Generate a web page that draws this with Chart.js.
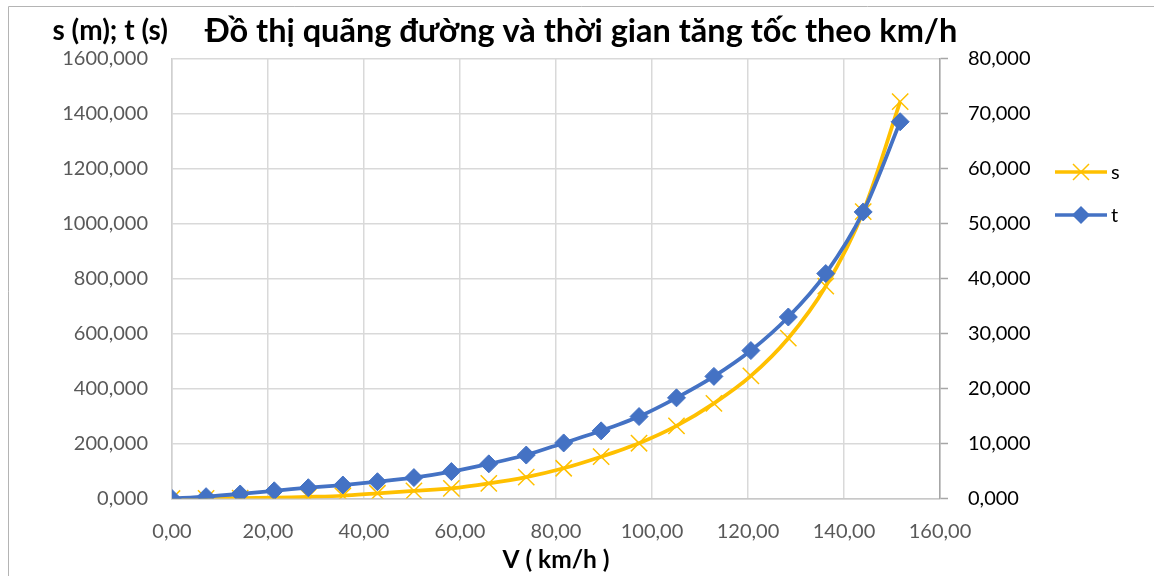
<!DOCTYPE html>
<html>
<head>
<meta charset="utf-8">
<script src="https://cdn.jsdelivr.net/npm/chart.js@4/dist/chart.umd.min.js"></script>
<style>
  body { margin: 0; background: #fff; }
  canvas { display: block; }
</style>
</head>
<body>
<canvas id="myChart" width="1162" height="576"></canvas>
<script>
// speed (km/h) at each step
var speeds = [0, 7.1, 14.2, 21.3, 28.4, 35.6, 42.8, 50.4, 58.2, 66.0, 73.8,
              81.6, 89.4, 97.3, 105.1, 112.9, 120.6, 128.4, 136.2, 144.0, 151.7];
// distance s (m)
var distances = [0, 0.5, 1.5, 3, 6, 10, 19, 28, 37, 55, 78,
                 110, 152, 201, 264, 346, 446, 583, 772, 1043, 1443];
// time t (s)
var times = [0, 0.33, 0.82, 1.4, 1.96, 2.45, 3.05, 3.8, 4.9, 6.3, 7.9,
             10.1, 12.3, 14.9, 18.3, 22.2, 26.9, 33.0, 40.9, 52.1, 68.5];

var seriesNames = ['s', 't'];
var titleText = 'Đồ thị quãng đường và thời gian tăng tốc theo km/h';
var yTitleText = 's (m); t (s)';
var xTitleText = 'V ( km/h )';

var yellow = '#FFC000';
var blue = '#4472C4';
var fontFamily = 'Lato, "Noto Sans", sans-serif';

function toPoints(xs, ys) {
  return xs.map(function (x, i) { return {x: x, y: ys[i]}; });
}
function comma(v, digits) {
  return Number(v).toFixed(digits).replace('.', ',');
}

// frame, y axis caption and the line+marker legend on the right
var extras = {
  id: 'extras',
  afterDraw: function (chart) {
    var c = chart.ctx;
    c.save();
    c.strokeStyle = '#b4b4b4';
    c.lineWidth = 1;
    c.beginPath();
    c.moveTo(8.5, 576);
    c.lineTo(8.5, 6.5);
    c.lineTo(1154, 6.5);
    c.stroke();

    c.fillStyle = '#000';
    c.font = 'bold 28px ' + fontFamily;
    c.textAlign = 'right';
    c.textBaseline = 'middle';
    c.fillText(yTitleText, 168, 31);

    var items = [
      {label: seriesNames[0], color: yellow, y: 172, marker: 'cross'},
      {label: seriesNames[1], color: blue, y: 215, marker: 'diamond'}
    ];
    items.forEach(function (it) {
      c.strokeStyle = it.color;
      c.lineWidth = 3.5;
      c.beginPath();
      c.moveTo(1055, it.y);
      c.lineTo(1107, it.y);
      c.stroke();
      var cx = 1081;
      if (it.marker === 'cross') {
        c.lineWidth = 1.5;
        c.beginPath();
        c.moveTo(cx - 8, it.y - 8); c.lineTo(cx + 8, it.y + 8);
        c.moveTo(cx + 8, it.y - 8); c.lineTo(cx - 8, it.y + 8);
        c.stroke();
      } else {
        c.fillStyle = it.color;
        c.beginPath();
        c.moveTo(cx - 9, it.y); c.lineTo(cx, it.y - 9);
        c.lineTo(cx + 9, it.y); c.lineTo(cx, it.y + 9);
        c.closePath();
        c.fill();
      }
      c.fillStyle = '#000';
      c.font = '20px ' + fontFamily;
      c.textAlign = 'left';
      c.fillText(it.label, 1111, it.y + 1);
    });
    c.restore();
  }
};

var ctx = document.getElementById('myChart').getContext('2d');
var myChart = new Chart(ctx, {
  type: 'line',
  data: {
    datasets: [{
      label: seriesNames[0],
      data: toPoints(speeds, distances),
      yAxisID: 'y',
      borderColor: yellow,
      backgroundColor: yellow,
      borderWidth: 3.75,
      pointStyle: 'crossRot',
      pointRadius: 11.5,
      pointBorderWidth: 1.5,
      pointBorderColor: yellow,
      tension: 0.3,
      order: 1
    }, {
      label: seriesNames[1],
      data: toPoints(speeds, times),
      yAxisID: 'y1',
      borderColor: blue,
      backgroundColor: blue,
      borderWidth: 3.75,
      pointStyle: 'rectRot',
      pointRadius: 9,
      pointBorderWidth: 1,
      pointBorderColor: blue,
      tension: 0.3,
      order: 0
    }]
  },
  options: {
    responsive: false,
    animation: false,
    layout: {padding: 0},
    plugins: {
      legend: {display: false},
      tooltip: {enabled: false},
      title: {
        display: true,
        text: titleText,
        color: '#000',
        font: {family: fontFamily, size: 32.5, weight: 'bold', lineHeight: 1.2},
        padding: {top: 12, bottom: 7.5}
      }
    },
    scales: {
      x: {
        type: 'linear',
        min: 0,
        max: 160,
        afterFit: function (s) { s.height = 77.5; },
        ticks: {
          stepSize: 20,
          padding: 21,
          color: '#595959',
          font: {family: fontFamily, size: 20},
          callback: function (v) { return comma(v, 2); }
        },
        grid: {color: '#d9d9d9', lineWidth: 1.5, drawTicks: false},
        border: {color: '#c8c8c8', width: 1.5},
        title: {
          display: true,
          text: xTitleText,
          color: '#000',
          font: {family: fontFamily, size: 24.5, weight: 'bold'},
          padding: {top: 0, bottom: 1}
        }
      },
      y: {
        position: 'left',
        min: 0,
        max: 1600,
        afterFit: function (s) { s.width = 172; },
        ticks: {
          stepSize: 200,
          padding: 24,
          color: '#595959',
          font: {family: fontFamily, size: 20},
          callback: function (v) { return comma(v, 3); }
        },
        grid: {color: '#d9d9d9', lineWidth: 1.5, drawTicks: false},
        border: {color: '#d0d0d0', width: 1.5}
      },
      y1: {
        position: 'right',
        min: 0,
        max: 80,
        afterFit: function (s) { s.width = 222; },
        ticks: {
          stepSize: 10,
          padding: 20,
          color: '#000',
          font: {family: fontFamily, size: 20},
          callback: function (v) { return comma(v, 3); }
        },
        grid: {drawOnChartArea: false, tickLength: 8, tickColor: '#a6a6a6', tickWidth: 1.5},
        border: {color: '#a6a6a6', width: 1.5}
      }
    }
  },
  plugins: [extras]
});
</script>
</body>
</html>
